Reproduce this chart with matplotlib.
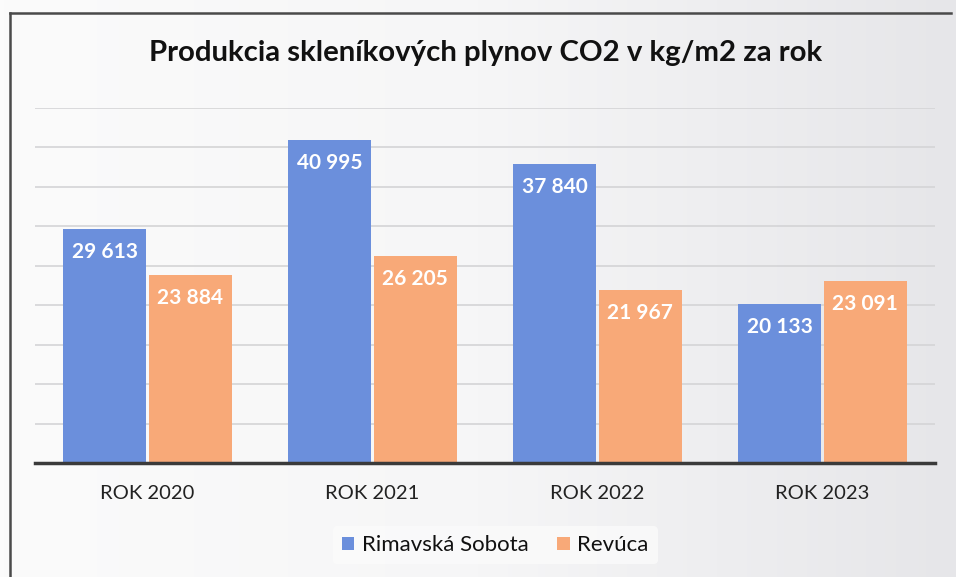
import numpy as np
import matplotlib.pyplot as plt
from matplotlib.lines import Line2D

categories = ["ROK 2020", "ROK 2021", "ROK 2022", "ROK 2023"]
rimavska_sobota = [29613, 40995, 37840, 20133]
revuca = [23884, 26205, 21967, 23091]
series_names = ["Rimavská Sobota", "Revúca"]
title = "Produkcia skleníkových plynov CO2 v kg/m2 za rok"

BLUE = "#6b8fdc"
ORANGE = "#f8a978"

plt.rcParams["font.family"] = ["Lato", "DejaVu Sans"]

fig = plt.figure(figsize=(9.56, 5.77), dpi=100)

# soft grey background, lighter on the left
bg = fig.add_axes([0, 0, 1, 1], zorder=-10)
grad = np.linspace(0, 1, 256)[None, :]
bg.imshow(grad, aspect="auto", extent=[0, 1, 0, 1],
          cmap=plt.matplotlib.colors.LinearSegmentedColormap.from_list(
              "bgc", ["#fbfbfb", "#f6f6f7", "#e6e6e9"]))
bg.set_axis_off()

ax = fig.add_axes([0.0366, 0.1976, 0.9414, 0.6153])
ax.set_facecolor("none")

x = np.arange(len(categories))
w = 0.37
off = 0.19
b1 = ax.bar(x - off, rimavska_sobota, w, color=BLUE, label=series_names[0], zorder=3)
b2 = ax.bar(x + off, revuca, w, color=ORANGE, label=series_names[1], zorder=3)

def fmt(v):
    return f"{v:,}".replace(",", " ")

for bars, vals in ((b1, rimavska_sobota), (b2, revuca)):
    for r, v in zip(bars, vals):
        ax.text(r.get_x() + r.get_width() / 2, v - 1650, fmt(v),
                ha="center", va="top", color="white", fontsize=15,
                fontweight="bold", zorder=4)

ax.set_xlim(-0.5, 3.5)
ax.set_ylim(0, 45000)
ax.set_yticks(np.arange(0, 45001, 5000))
ax.yaxis.grid(True, color="#d4d4d6", linewidth=1.2, zorder=0)
ax.tick_params(axis="y", left=False, labelleft=False)
ax.tick_params(axis="x", bottom=False, pad=12)
ax.set_xticks(x)
ax.set_xticklabels(categories, fontsize=14.5, color="#222222")
for s in ("top", "right", "left"):
    ax.spines[s].set_visible(False)
ax.spines["bottom"].set_color("#3a3a3a")
ax.spines["bottom"].set_linewidth(2.5)
ax.spines["bottom"].set_zorder(5)

fig.text(0.508, 0.908, title, ha="center", va="center", fontsize=21.2,
         fontweight="bold", color="#111111")

leg = fig.legend(loc="center", bbox_to_anchor=(0.518, 0.055), ncol=2,
                 frameon=True, fontsize=16, handlelength=0.55, handleheight=0.55,
                 handletextpad=0.35, columnspacing=1.3, borderpad=0.4)
leg.get_frame().set_facecolor("#fbfbfb")
leg.get_frame().set_edgecolor("none")
for t in leg.get_texts():
    t.set_color("#111111")

# dark frame along the top and left edges
fig.add_artist(Line2D([0.0105, 0.995], [0.977, 0.977], transform=fig.transFigure,
                      color="#4a4a4a", linewidth=1.8))
fig.add_artist(Line2D([0.0105, 0.0105], [0.0, 0.977], transform=fig.transFigure,
                      color="#4a4a4a", linewidth=1.8))

fig.savefig("out.png", dpi=100)
